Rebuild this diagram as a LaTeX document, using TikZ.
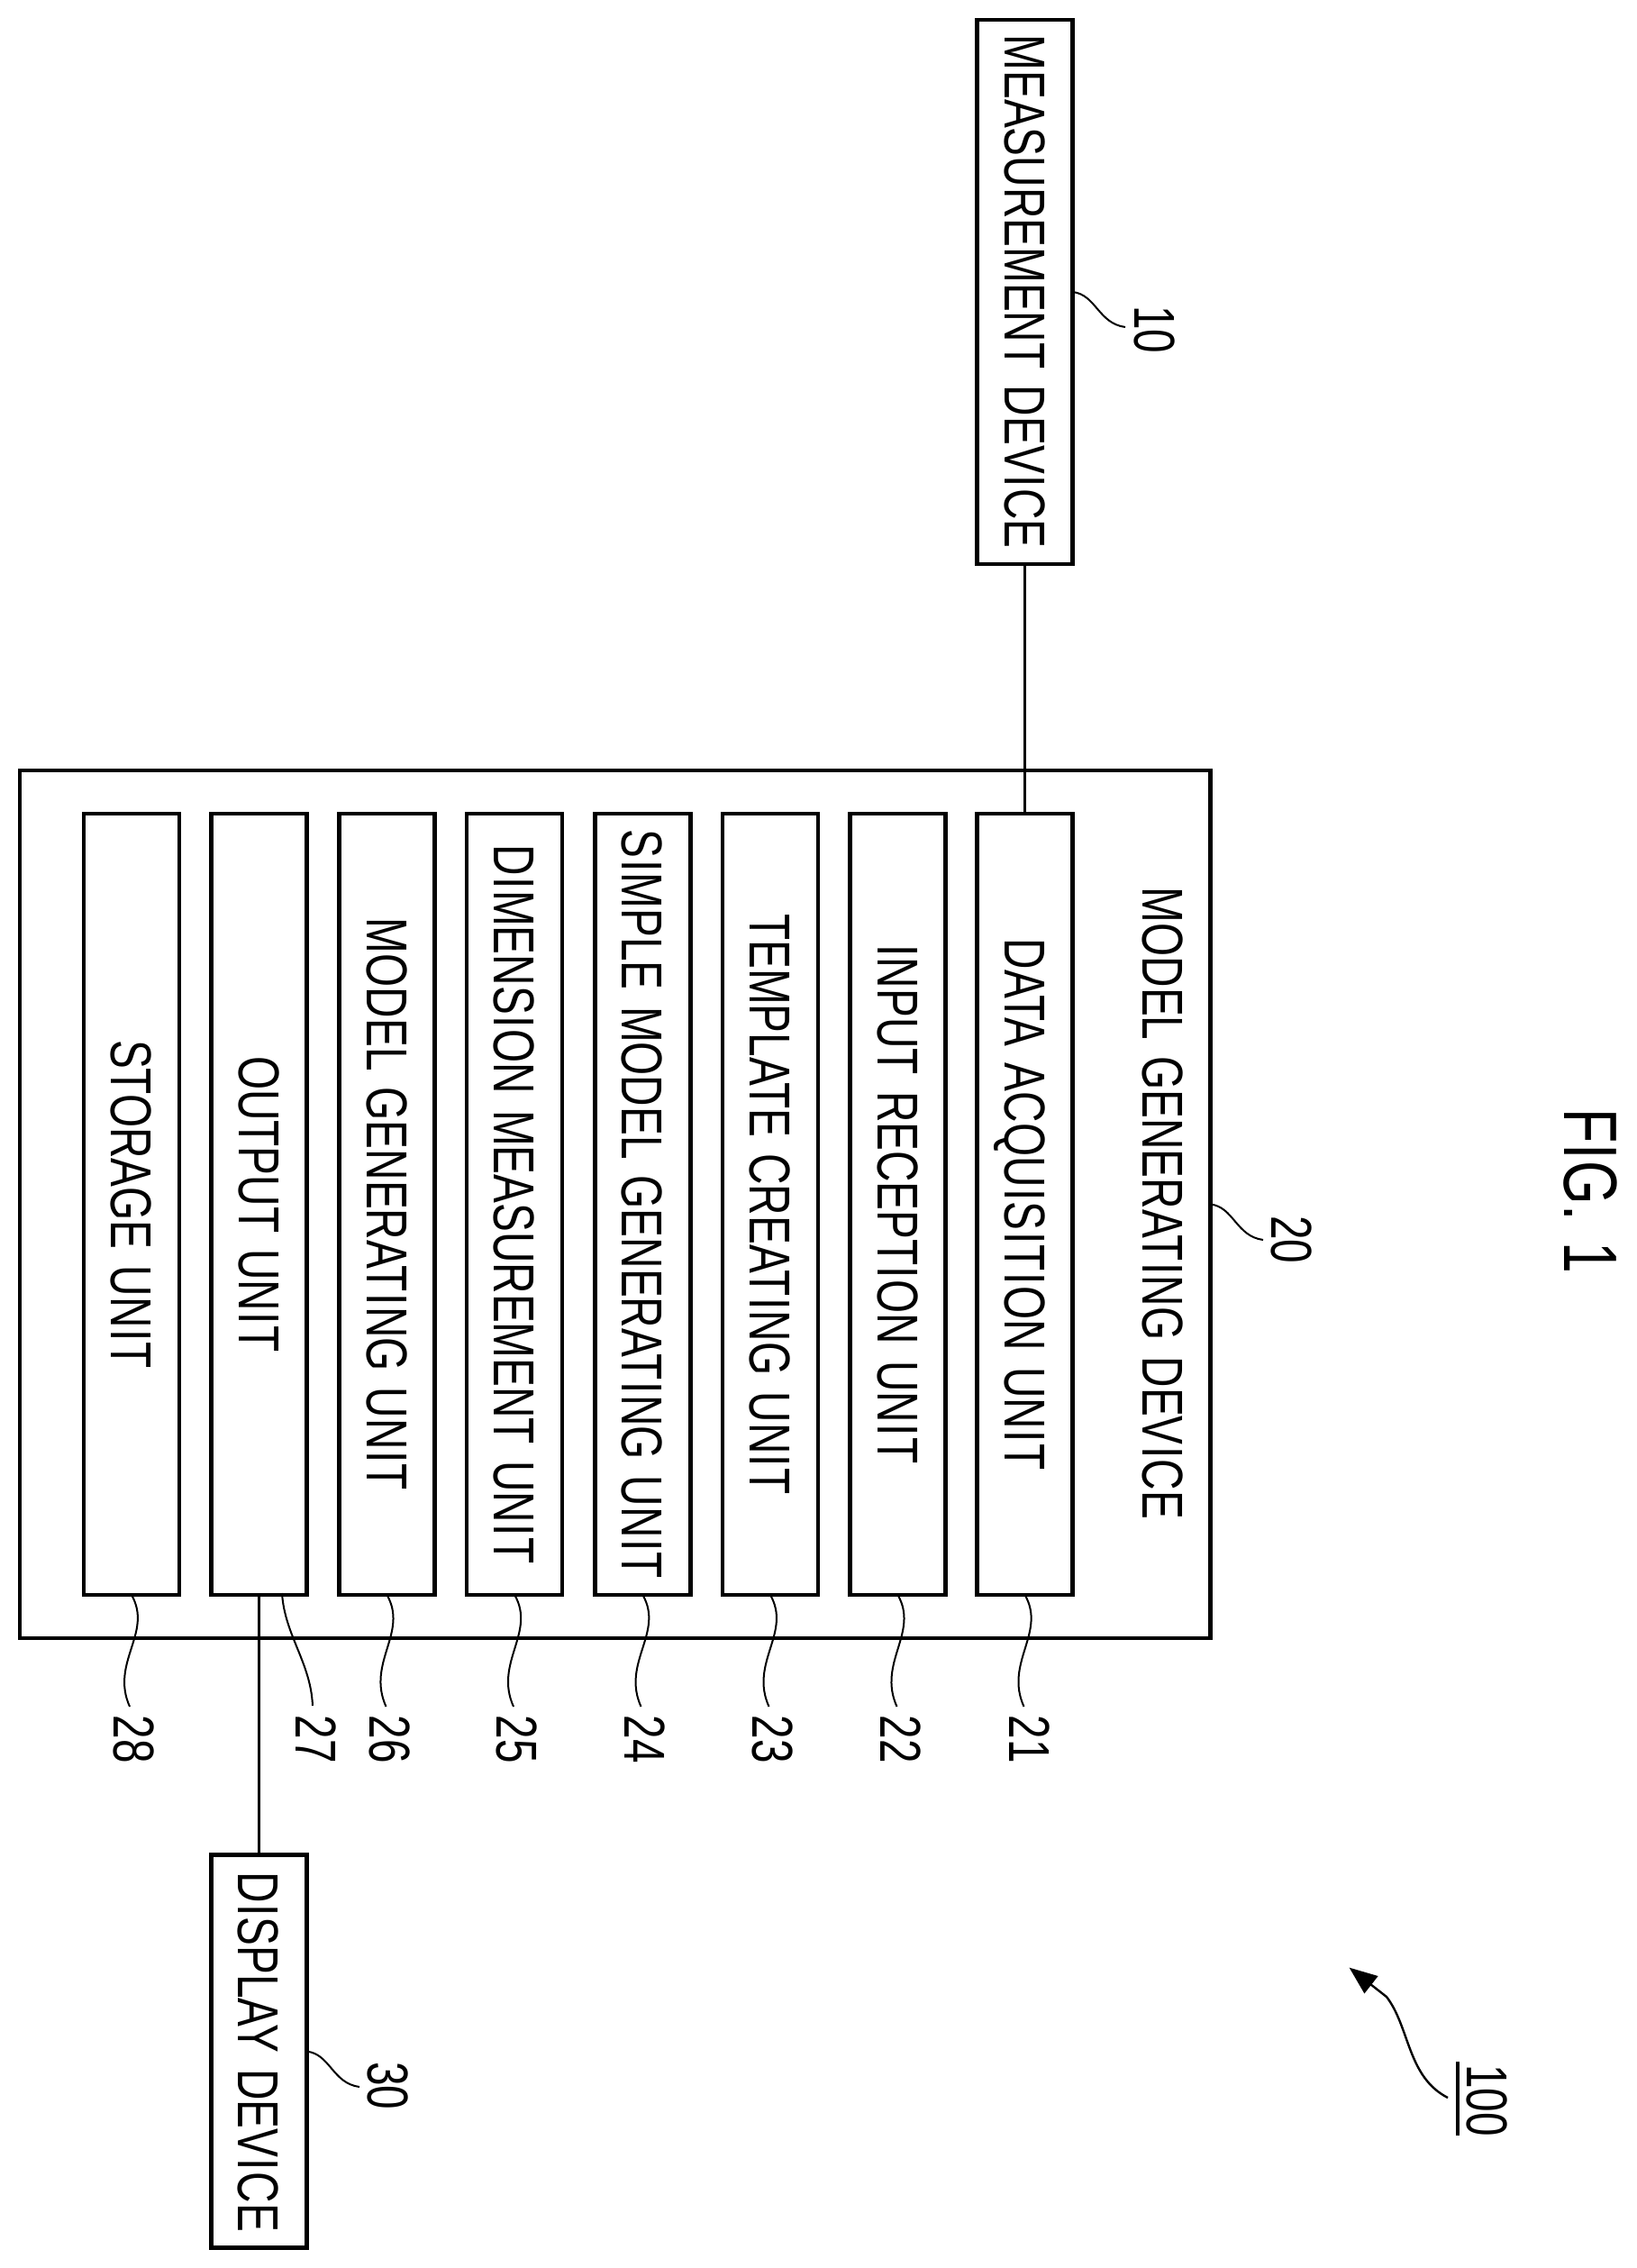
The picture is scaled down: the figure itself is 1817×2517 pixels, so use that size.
\documentclass[tikz,border=0pt]{standalone}
\usepackage{fontspec}
\setmainfont{Liberation Sans}
\newfontfamily\narrowfont[FakeStretch=0.745,WordSpace=1.38]{Liberation Sans}
\usetikzlibrary{arrows.meta}
% the reference face has a serifed, wider capital I: open a little room round it
\XeTeXinterchartokenstate=1
\newXeTeXintercharclass\wideIclass
\XeTeXcharclass`I=\wideIclass
\XeTeXinterchartoks 0 \wideIclass = {\kern1.5pt }
\XeTeXinterchartoks \wideIclass 0 = {\kern1.5pt }
\tikzset{
  x=1pt,y=-1pt,
  block/.style={draw=black,line width=4.5pt,rectangle,inner sep=0pt,outer sep=0pt,line join=miter},
  unitbox/.style={block,minimum width=106pt,minimum height=867pt},
  boxtext/.style={inner sep=0pt,outer sep=0pt,rotate=-90,text=black,font=\narrowfont\fontsize{64}{64}\selectfont,text height=46pt,text depth=0pt},
  figtext/.style={boxtext,font=\narrowfont\fontsize{84}{84}\selectfont,text height=60pt},
  wire/.style={draw=black,line width=3.4pt},
  leader/.style={draw=black,line width=2pt},
  refarrow/.style={draw=black,line width=2.4pt,-{Triangle[length=31pt,width=24pt]}},
  refbar/.style={draw=black,line width=4pt}
}
\begin{document}
\begin{tikzpicture}
\useasboundingbox (0,0) rectangle (1817,2517);
\fill[white] (0,0) rectangle (1817,2517);

% outer device and its title
\node[block,minimum width=1321.6pt,minimum height=962.8pt] (gen) at (682.6,1336.4) {};
\node[boxtext] (gentext) at (1291,1335.5) {MODEL GENERATING DEVICE};

% the eight units
\foreach \n/\cx/\t in {
  28/146/STORAGE UNIT,
  27/287.6/OUTPUT UNIT,
  26/429.5/MODEL GENERATING UNIT,
  25/571.2/DIMENSION MEASUREMENT UNIT,
  24/713.4/SIMPLE MODEL GENERATING UNIT,
  23/855/TEMPLATE CREATING UNIT,
  22/996.5/INPUT RECEPTION UNIT,
  21/1137.6/DATA ACQUISITION UNIT}{
  \node[unitbox] (s\n) at (\cx,1336.5) {};
  \node[boxtext] (t\n) at (\cx+0.5,1336.5) {\t};
}

% outside devices
\node[block,minimum width=106pt,minimum height=604pt] (mdev) at (1137.6,324) {};
\node[boxtext] (mtext) at (1138.6,323.5) {MEASUREMENT DEVICE};
\node[block,minimum width=106pt,minimum height=436pt] (ddev) at (287.6,2276.6) {};
\node[boxtext] (dtext) at (287,2277) {DISPLAY DEVICE};

% connectors
\draw[wire] (mdev.south) -- (s21.north);
\draw[wire] (s27.south) -- (ddev.north);

% reference numerals
\foreach \n/\lx/\ex in {28/149/144,26/433/428.5,25/574/570,24/716/711.5,23/858/853.5,22/1000/995.5,21/1143/1136.5}{
  \node[boxtext] (l\n) at (\lx,1930) {\n};
  \coordinate (e\n) at (\ex,1894);
  \draw[leader] (s\n.south) .. controls +(24,42) and +(-22,-49) .. (e\n);
}
\node[boxtext] (l27) at (351.5,1930) {27};
\coordinate (b27) at (313,1768);
\coordinate (e27) at (347,1893);
\draw[leader] (b27) .. controls (316,1815) and (345,1845) .. (e27);

\node[boxtext] (l10) at (1282,366) {10};
\coordinate (e10) at (1249,363);
\draw[leader] (mdev.east) .. controls +(26,3) and +(-30,-4) .. (e10);
\node[boxtext] (l20) at (1434.5,1375.5) {20};
\coordinate (e20) at (1402,1376);
\draw[leader] (gen.east) .. controls +(26,3) and +(-30,-4) .. (e20);
\node[boxtext] (l30) at (431,2314.5) {30};
\coordinate (e30) at (399,2316);
\draw[leader] (ddev.east) .. controls +(26,3) and +(-30,-4) .. (e30);

% 100 with its arrow
\node[boxtext] (l100) at (1651,2331) {100};
\coordinate (bar1) at (1617.5,2288);
\coordinate (bar2) at (1617.5,2370);
\draw[refbar] (bar1) -- (bar2);
\coordinate (a1) at (1607,2328);
\coordinate (a2) at (1539,2216);
\coordinate (a3) at (1497.6,2183.6);
\draw[refarrow] (a1) .. controls (1562,2305) and (1565,2250) .. (a2) -- (a3);

% figure title
\node[figtext] (fig) at (1766,1322) {FIG. 1};
\end{tikzpicture}
\end{document}
